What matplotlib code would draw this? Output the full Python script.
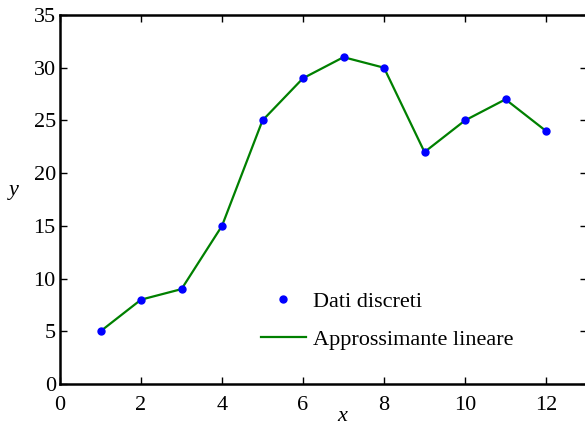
import numpy as np
import matplotlib.pyplot as plt

plt.rcParams['font.family'] = ['Liberation Serif', 'DejaVu Serif']

# Dati
x = np.array([1, 2, 3, 4, 5, 6, 7, 8, 9, 10, 11, 12])
y = np.array([5, 8, 9, 15, 25, 29, 31, 30, 22, 25, 27, 24])

fig = plt.figure(figsize=(5.85, 4.25), dpi=100)
ax = fig.add_axes([60 / 585, 41 / 425, 526.5 / 585, 369 / 425])

ax.plot(x, y, 'o', color='#0000ff', markersize=5, label='Dati discreti', zorder=3)
ax.plot(x, y, '-', color='#008000', linewidth=1.6, label='Approssimante lineare', zorder=2)

ax.set_xlim(0, 13)
ax.set_ylim(0, 35)
ax.set_xticks(np.arange(0, 13, 2))
ax.set_yticks(np.arange(0, 36, 5))
ax.tick_params(direction='in', length=5, width=1, labelsize=16, top=True, right=True, pad=3)
ax.tick_params(axis='x', pad=9)
for s in ax.spines.values():
    s.set_linewidth(1.8)

ax.set_xlabel('x', fontsize=16, style='italic')
ax.xaxis.set_label_coords(0.536, -0.062, transform=ax.transAxes)
ax.xaxis.label.set_va('top')
ax.set_ylabel('y', fontsize=16, style='italic', rotation=0, labelpad=14)

ax.legend(loc='lower left', bbox_to_anchor=(0.361, 0.062), frameon=False, fontsize=16,
          handlelength=2.0, handletextpad=0.35, labelspacing=0.8, borderpad=0)

fig.savefig('out.png', dpi=100)
